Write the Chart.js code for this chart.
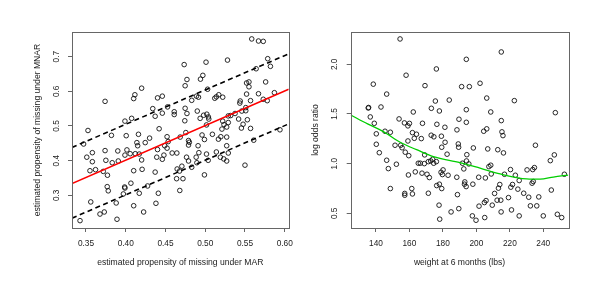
<!DOCTYPE html>
<html>
<head>
<meta charset="utf-8">
<script src="https://cdn.jsdelivr.net/npm/chart.js@4.4.1/dist/chart.umd.min.js"></script>
<style>
  html, body { margin: 0; padding: 0; background: #fff; }
  #wrap { position: relative; width: 600px; height: 300px; }
  canvas { position: absolute; top: 0; }
</style>
</head>
<body>
<div id="wrap">
  <canvas id="left" width="300" height="300" style="left:0"></canvas>
  <canvas id="right" width="300" height="300" style="left:300px"></canvas>
</div>
<script>
// ---- left panel: propensity under MAR vs MNAR ----
const marX = [
  0.5585,0.567,0.573,0.4735,0.501,0.528,0.5786,0.582,0.564,0.497,0.494,0.477,0.555,0.552,0.576,0.555,
  0.4747,0.503,0.420,0.552,0.567,0.517,0.514,0.522,0.512,0.587,0.4115,0.410,0.446,0.440,0.489,0.4915,
  0.374,0.483,0.557,0.573,0.578,0.544,0.5435,0.551,0.551,0.546,0.5375,0.532,0.529,0.434,0.446,0.4526,
  0.461,0.461,0.4747,0.477,0.490,0.498,0.502,0.504,0.4936,0.5045,0.437,0.4074,0.399,0.4743,0.522,0.5236,
  0.5016,0.542,0.553,0.5476,0.527,0.529,0.3525,0.442,0.5455,0.557,0.594,0.382,0.4006,0.416,0.452,0.4756,
  0.509,0.527,0.521,0.5196,0.5166,0.561,0.347,0.414,0.415,0.4245,0.430,0.4534,0.449,0.4685,0.479,0.480,
  0.479,0.491,0.496,0.499,0.527,
  0.351,0.358,0.375,0.3906,0.362,0.355,0.383,0.399,0.4056,0.412,0.417,0.420,0.410,0.4206,0.3717,0.377,
  0.3767,0.378,0.3986,0.399,0.4065,0.397,0.417,0.4275,0.437,0.439,0.446,0.448,0.441,0.438,0.4225,0.410,
  0.388,0.373,0.3676,0.356,0.3425,0.389,0.4643,0.4765,0.479,0.483,0.4706,0.4647,0.4677,0.464,0.472,0.468,
  0.4886,0.492,0.4895,0.5016,0.5037,0.499,0.514,0.519,0.5233,0.527,0.529,0.4584,0.550,
  0.374,0.358,0.390,0.4015,0.440,0.452
];
const mnarY = [
  0.751,0.745,0.744,0.677,0.684,0.690,0.694,0.672,0.665,0.646,0.635,0.634,0.627,0.624,0.627,0.613,
  0.616,0.606,0.609,0.592,0.593,0.590,0.584,0.583,0.580,0.596,0.590,0.579,0.586,0.581,0.586,0.583,
  0.571,0.574,0.573,0.577,0.573,0.572,0.566,0.553,0.544,0.543,0.536,0.530,0.529,0.550,0.537,0.555,
  0.541,0.533,0.551,0.536,0.543,0.531,0.534,0.526,0.522,0.520,0.528,0.522,0.514,0.515,0.514,0.504,
  0.503,0.520,0.518,0.505,0.497,0.510,0.487,0.492,0.494,0.493,0.489,0.473,0.472,0.476,0.469,0.481,
  0.476,0.468,0.491,0.469,0.462,0.459,0.448,0.452,0.443,0.452,0.465,0.455,0.443,0.468,0.458,0.453,
  0.445,0.443,0.474,0.461,0.443,
  0.410,0.397,0.401,0.399,0.374,0.371,0.394,0.416,0.420,0.420,0.419,0.402,0.371,0.375,0.369,0.358,
  0.325,0.313,0.324,0.321,0.335,0.304,0.306,0.327,0.367,0.410,0.404,0.416,0.306,0.277,0.252,0.270,
  0.278,0.252,0.246,0.281,0.227,0.231,0.422,0.410,0.399,0.381,0.384,0.376,0.370,0.348,0.348,0.314,
  0.410,0.423,0.394,0.419,0.401,0.359,0.425,0.410,0.405,0.399,0.422,0.422,0.387,
  0.429,0.423,0.428,0.431,0.432,0.436
];
const leftXTicks = [0.35, 0.40, 0.45, 0.50, 0.55, 0.60];
const leftYTicks = [0.3, 0.4, 0.5, 0.6, 0.7];
// fitted line and +/- band, read at the box edges
const fitX = [0.3324, 0.605];
const fitY = [0.334, 0.606];
const upperY = [0.438, 0.708];
const lowerY = [0.234, 0.506];

// ---- right panel: weight vs log odds ratio ----
const weight = [
  154.4,214.9,194,176.1,158,138.4,169.3,191.2,195.8,202.2,146.4,183.8,175.5,206.2,222.7,135.4,
  135.6,143,173.1,177.9,194,208.6,247.2,162.3,136.6,153.8,189.6,214.9,139,157,159.1,160,
  167.8,176.4,181.2,194,188.4,204.4,206.2,215.3,215.9,140.2,145.4,148.6,161.8,164.2,173,174.6,
  179.1,162.9,167.1,140.2,151.4,154.8,159.1,181.3,189.2,189.4,198.2,206.8,212.8,235.3,179.3,142,
  146.4,147.4,152.2,157.5,159.6,159.4,163.5,165.3,166.5,167.5,168.9,169.1,170.5,171.9,171.3,172.7,
  173.9,174.5,176.1,178.9,180.1,179.7,182.5,183.1,176.3,177.9,179.3,148.6,157.2,157.2,161.4,161.8,
  171.3,177.7,178.1,184.9,189.5,188.7,188.3,191.7,192.5,193.1,192.9,193.9,194.3,194.1,195.5,197.9,
  197.6,199.8,201.6,201.4,204.8,205.8,205,205.4,207.5,208.6,208.9,209.5,210.9,212.4,213.2,214,
  214.6,214.8,216.2,216.8,219.2,220.4,220.6,221.6,221,223.3,224.8,225.6,225.6,228.3,230.3,231.3,
  232.3,233.3,233.7,234.7,234,236.1,237.3,240,244.2,246.6,244.8,248.4,251,252.6,155.6
];
const logOR = [
  2.255,2.124,2.05,1.953,1.89,1.80,1.785,1.775,1.775,1.809,1.70,1.64,1.63,1.66,1.634,1.56,
  1.565,1.57,1.557,1.53,1.543,1.52,1.513,1.52,1.47,1.45,1.447,1.433,1.406,1.41,1.38,1.405,
  1.406,1.396,1.366,1.416,1.34,1.326,1.35,1.32,1.282,1.30,1.326,1.316,1.312,1.296,1.286,1.27,
  1.276,1.255,1.252,1.195,1.185,1.185,1.228,1.215,1.198,1.165,1.158,1.148,1.14,1.185,1.165,1.11,
  1.034,0.95,0.994,1.115,1.08,0.886,0.917,1.004,1.004,0.904,1.0,1.088,0.893,0.86,1.02,1.027,
  1.044,1.004,1.02,0.913,0.937,0.89,1.095,0.883,0.779,0.793,0.749,0.749,0.70,0.682,0.749,0.695,
  0.702,0.582,0.441,0.514,0.547,0.688,0.863,1.004,0.947,0.816,0.793,0.769,1.09,1.027,0.997,0.793,
  0.474,0.43,0.572,0.863,0.608,0.628,0.457,0.856,0.97,0.984,0.896,0.582,0.70,0.632,0.753,0.79,
  0.632,0.514,1.108,0.893,0.658,0.94,0.763,0.79,0.534,0.883,0.743,0.83,0.474,0.702,0.937,0.662,
  0.575,0.803,0.94,0.96,0.82,0.575,0.665,0.474,1.03,1.088,0.734,0.49,0.457,0.893,1.16
];
const rightXTicks = [140, 160, 180, 200, 220, 240];
const rightYTicks = [0.5, 1.0, 1.5, 2.0];
// smooth trend
const curveX = [124.9, 135, 144.4, 155, 164.3, 174.3, 190.2, 202.2, 214.2, 230.1, 238.1, 246, 255];
const curveY = [1.49, 1.40, 1.322, 1.21, 1.14, 1.07, 1.01, 0.954, 0.896, 0.846, 0.843, 0.865, 0.885];

Chart.defaults.font.family = "'Liberation Sans', Arial, sans-serif";
Chart.defaults.font.size = 8.3;
Chart.defaults.color = '#222';

function pts(xs, ys) {
  return xs.map((x, i) => ({ x: x, y: ys[i] }));
}

const boxPlugin = {
  id: 'box',
  afterDraw(chart) {
    const a = chart.chartArea;
    const ctx = chart.ctx;
    ctx.save();
    ctx.strokeStyle = '#666';
    ctx.lineWidth = 1;
    ctx.strokeRect(Math.round(a.left) + 0.5, Math.round(a.top) + 0.5,
      Math.round(a.right - a.left), Math.round(a.bottom - a.top));
    ctx.restore();
  }
};

function axis(min, max, ticks, digits, title, isY, fitSize, titlePad) {
  return {
    type: 'linear',
    min: min,
    max: max,
    afterBuildTicks: s => { s.ticks = ticks.map(v => ({ value: v })); },
    afterFit: s => { if (isY) s.width = fitSize; else s.height = fitSize; },
    grid: { drawOnChartArea: false, drawTicks: true, tickLength: 4, color: '#666' },
    border: { display: false },
    ticks: isY
      ? { minRotation: 90, maxRotation: 90, crossAlign: 'center', padding: 6,
          callback: v => v.toFixed(digits) }
      : { padding: 7, maxRotation: 0, callback: v => v.toFixed(digits) },
    title: { display: true, text: title, color: '#222', font: { size: 8.6 },
      padding: isY ? { top: titlePad, bottom: 0 } : { top: 0, bottom: titlePad } }
  };
}

function pointSet(data) {
  return {
    data: data,
    pointStyle: 'circle',
    pointRadius: 2.3,
    borderWidth: 0.9,
    borderColor: '#111',
    backgroundColor: 'rgba(0,0,0,0)',
    showLine: false
  };
}

function lineSet(data, color, dash, width, smooth) {
  return {
    data: data,
    showLine: true,
    pointRadius: 0,
    borderColor: color,
    borderWidth: width,
    borderDash: dash,
    tension: smooth ? 0.4 : 0,
    cubicInterpolationMode: smooth ? 'monotone' : 'default',
    fill: false
  };
}

const common = {
  responsive: false,
  animation: false,
  plugins: { legend: { display: false }, tooltip: { enabled: false } }
};

new Chart(document.getElementById('left'), {
  type: 'scatter',
  data: {
    datasets: [
      lineSet(pts(fitX, fitY), '#ff0000', [], 1.5, false),
      lineSet(pts(fitX, upperY), '#000', [5, 3.5], 1.6, false),
      lineSet(pts(fitX, lowerY), '#000', [5, 3.5], 1.6, false),
      pointSet(pts(marX, mnarY))
    ]
  },
  options: Object.assign({}, common, {
    layout: { padding: { top: 32, right: 11, left: 0, bottom: 0 } },
    scales: {
      x: axis(0.3324, 0.605, leftXTicks, 2, 'estimated propensity of missing under MAR', false, 72, 32),
      y: axis(0.2058, 0.771, leftYTicks, 1, 'estimated propensity of missing under MNAR', true, 72, 32)
    }
  }),
  plugins: [boxPlugin]
});

new Chart(document.getElementById('right'), {
  type: 'scatter',
  data: {
    datasets: [
      lineSet(pts(curveX, curveY), '#00cd00', [], 1.3, true),
      pointSet(pts(weight, logOR))
    ]
  },
  options: Object.assign({}, common, {
    layout: { padding: { top: 32, right: 31.7, left: 0, bottom: 0 } },
    scales: {
      x: axis(124.9, 254.95, rightXTicks, 0, 'weight at 6 months (lbs)', false, 72, 32),
      y: axis(0.352, 2.325, rightYTicks, 1, 'log odds ratio', true, 50.7, 10)
    }
  }),
  plugins: [boxPlugin]
});
</script>
</body>
</html>
